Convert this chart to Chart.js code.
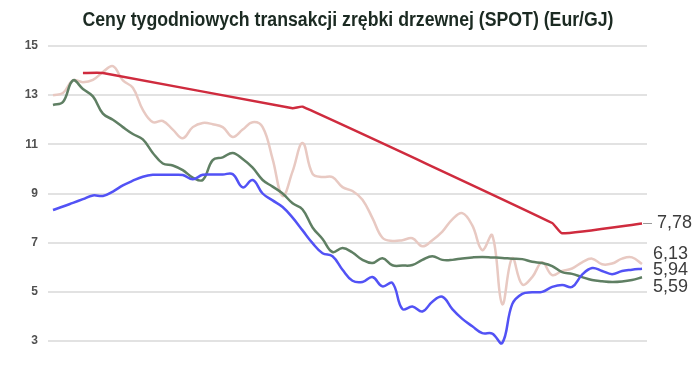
<!DOCTYPE html>
<html>
<head>
<meta charset="utf-8">
<script src="https://cdn.jsdelivr.net/npm/chart.js@4"></script>
<style>
  body { margin: 0; background: #fff; }
  #wrap { width: 696px; height: 385px; }
</style>
</head>
<body>
<div id="wrap"><canvas id="myChart" width="696" height="385"></canvas></div>
<script>
const title = "Ceny tygodniowych transakcji zrębki drzewnej (SPOT) (Eur/GJ)";
const yTicks = [3, 5, 7, 9, 11, 13, 15];

// 60 weekly points
const weeks = [];
for (let i = 1; i <= 60; i++) weeks.push(i);

const red = [null, null, null, 13.9, null, 13.9, null, null, null, null,
    null, null, null, null, null, null, null, null, null, null,
    null, null, null, null, 12.47, 12.53, null, null, null, null,
    null, null, null, null, null, null, null, null, null, null,
    null, null, null, null, null, null, null, null, null, null,
    7.8, 7.38, null, null, null, null, null, null, null, 7.78];

const blue = [8.33, 8.47, 8.62, 8.77, 8.92, 8.9, 9.08, 9.33, 9.52, 9.68,
    9.76, 9.76, 9.76, 9.75, 9.58, 9.76, 9.77, 9.77, 9.79, 9.25,
    9.55, 9.0, 8.72, 8.45, 8.02, 7.5, 6.98, 6.57, 6.45, 5.9,
    5.45, 5.4, 5.6, 5.22, 5.36, 4.3, 4.4, 4.2, 4.6, 4.8,
    4.3, 3.9, 3.6, 3.32, 3.3, 2.92, 4.5, 4.92, 4.98, 5.0,
    5.2, 5.28, 5.2, 5.7, 5.97, 5.85, 5.72, 5.85, 5.9, 5.94];

const green = [12.6, 12.72, 13.6, 13.25, 12.95, 12.25, 12.0, 11.7, 11.42, 11.2,
    10.65, 10.22, 10.14, 9.95, 9.65, 9.55, 10.36, 10.47, 10.65, 10.4,
    10.05, 9.55, 9.28, 9.0, 8.6, 8.35, 7.62, 7.15, 6.62, 6.78,
    6.6, 6.3, 6.17, 6.37, 6.08, 6.07, 6.09, 6.3, 6.45, 6.3,
    6.3, 6.36, 6.4, 6.42, 6.4, 6.38, 6.35, 6.33, 6.22, 6.17,
    6.05, 5.8, 5.73, 5.6, 5.48, 5.43, 5.4, 5.42, 5.48, 5.59];

const pink = [13.0, 13.09, 13.6, 13.53, 13.62, 13.94, 14.18, 13.6, 13.3, 12.4,
    11.9, 11.95, 11.6, 11.25, 11.7, 11.87, 11.82, 11.7, 11.3, 11.6,
    11.9, 11.7, 10.4, 8.9, 9.9, 11.05, 9.8, 9.67, 9.67, 9.26,
    9.1, 8.75, 8.0, 7.2, 7.07, 7.1, 7.18, 6.85, 7.1, 7.45,
    7.95, 8.2, 7.7, 6.7, 7.3, 4.5, 6.37, 5.3, 5.6, 6.2,
    5.68, 5.85, 5.95, 6.2, 6.35, 6.12, 6.15, 6.35, 6.4, 6.13];

// title centred on the whole canvas, squeezed like a narrow face
const pageTitle = {
    id: 'pageTitle',
    afterDraw(chart) {
        const ctx = chart.ctx;
        ctx.save();
        ctx.font = 'bold 20px "Liberation Sans", Arial, sans-serif';
        ctx.fillStyle = '#1b2a22';
        ctx.textAlign = 'center';
        ctx.textBaseline = 'middle';
        ctx.fillText(title, chart.width / 2, 20, 531);
        ctx.restore();
    }
};

// labels at the end of each line, pushed apart when they overlap
const endLabels = {
    id: 'endLabels',
    afterDatasetsDraw(chart) {
        const ctx = chart.ctx;
        const gap = 16.5;
        let items = chart.data.datasets.map((ds, i) => {
            const meta = chart.getDatasetMeta(i);
            const pt = meta.data[meta.data.length - 1];
            const v = ds.data[ds.data.length - 1];
            return { x: pt.x, y: pt.y, ly: pt.y, text: v.toFixed(2).replace('.', ',') };
        });
        items.sort((a, b) => a.y - b.y);
        let clusters = items.map(it => ({ items: [it], center: it.y }));
        let merged = true;
        while (merged) {
            merged = false;
            for (let k = 0; k < clusters.length - 1; k++) {
                const a = clusters[k], b = clusters[k + 1];
                const aBottom = a.center + (a.items.length - 1) * gap / 2;
                const bTop = b.center - (b.items.length - 1) * gap / 2;
                if (bTop - aBottom < gap) {
                    const all = a.items.concat(b.items);
                    const c = all.reduce((s, it) => s + it.y, 0) / all.length;
                    clusters.splice(k, 2, { items: all, center: c });
                    merged = true;
                    break;
                }
            }
        }
        ctx.save();
        ctx.font = '18px "Liberation Sans", Arial, sans-serif';
        ctx.fillStyle = '#3c3c3c';
        ctx.textBaseline = 'middle';
        clusters.forEach(c => {
            c.items.forEach((it, j) => {
                it.ly = c.center + (j - (c.items.length - 1) / 2) * gap;
                if (c.items.length === 1) {
                    ctx.strokeStyle = '#999';
                    ctx.lineWidth = 1;
                    ctx.beginPath();
                    ctx.moveTo(it.x + 1, it.y);
                    ctx.lineTo(it.x + 10, it.y);
                    ctx.stroke();
                    ctx.fillText(it.text, it.x + 15, it.ly);
                } else {
                    ctx.fillText(it.text, it.x + 11, it.ly);
                }
            });
        });
        ctx.restore();
    }
};

const graph = document.getElementById("myChart").getContext("2d");
let myChart = new Chart(graph, {
    type: "line",
    data: {
        labels: weeks,
        datasets: [
            { data: red, borderColor: "#cf2b3e", borderWidth: 2.5, tension: 0.15, spanGaps: true, clip: 6 },
            { data: blue, borderColor: "#5252f5", borderWidth: 2.5, tension: 0.4, clip: 6 },
            { data: green, borderColor: "#5f7f63", borderWidth: 2.5, tension: 0.4, clip: 6 },
            { data: pink, borderColor: "#e8c9c2", borderWidth: 2.5, tension: 0.4, clip: 6 },
        ],
    },
    options: {
        responsive: false,
        animation: false,
        layout: { padding: { left: 0, right: 49, bottom: 44, top: 46 } },
        elements: { point: { radius: 0 } },
        plugins: {
            legend: { display: false },
            tooltip: { enabled: false },
            title: { display: false },
        },
        scales: {
            x: { display: false, offset: true },
            y: {
                min: 3,
                max: 15,
                afterFit: (scale) => { scale.width = 48; },
                afterBuildTicks: (scale) => { scale.ticks = yTicks.map(v => ({ value: v })); },
                border: { display: false },
                grid: { color: "#e2e2e2", lineWidth: 2, drawTicks: false },
                ticks: {
                    padding: 10,
                    color: "#505050",
                    font: { family: '"Liberation Sans", Arial, sans-serif', size: 12, weight: 'bold' },
                },
            },
        },
    },
    plugins: [endLabels, pageTitle],
});
</script>
</body>
</html>
